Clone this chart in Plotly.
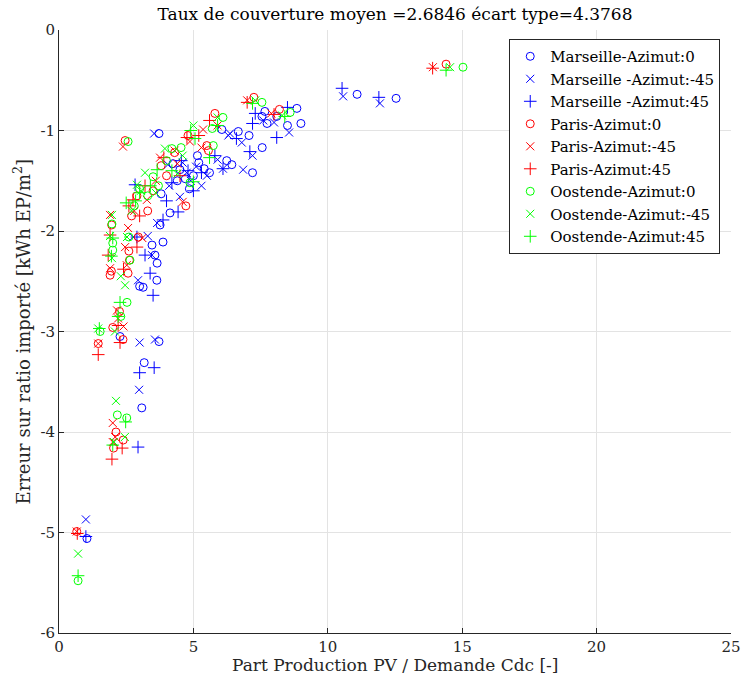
import plotly.graph_objects as go

# ---- data ----
mars0_x = [11.09, 12.54, 8.85, 7.66, 7.55, 7.74, 8.10, 8.50, 9.00, 6.06, 6.67, 7.07, 7.56, 6.24, 6.43, 7.20, 3.72, 4.24, 4.50, 5.20, 5.40, 5.00, 5.60, 4.70, 4.13, 3.76, 3.87, 3.46, 3.57, 3.65, 3.64, 3.00, 3.13, 2.27, 3.72, 3.17, 3.08, 1.04, 3.80, 4.85, 5.15, 4.40]
mars0_y = [-0.64, -0.68, -0.78, -0.81, -0.86, -0.93, -0.86, -0.95, -0.93, -0.99, -1.01, -1.05, -1.17, -1.30, -1.34, -1.42, -1.03, -1.33, -1.39, -1.32, -1.38, -1.45, -1.42, -1.48, -1.82, -1.94, -2.11, -2.14, -2.24, -2.32, -2.49, -2.55, -2.56, -3.05, -3.10, -3.31, -3.76, -5.06, -1.63, -1.58, -1.25, -1.50]

marsm45_x = [10.57, 11.94, 8.00, 8.56, 6.30, 6.80, 6.36, 7.20, 5.90, 6.10, 6.85, 3.54, 4.05, 4.60, 5.10, 5.50, 4.90, 4.50, 3.65, 3.46, 2.76, 2.94, 3.00, 3.57, 2.98, 1.00, 4.10, 5.30, 7.60, 3.30, 4.75]
marsm45_y = [-0.66, -0.73, -0.92, -1.02, -1.05, -1.12, -1.03, -1.25, -1.29, -1.38, -1.39, -1.03, -1.34, -1.32, -1.36, -1.45, -1.50, -1.66, -1.92, -2.24, -2.06, -2.49, -3.11, -3.08, -3.58, -4.87, -1.55, -1.55, -0.90, -2.05, -1.42]

mars45_x = [10.53, 11.90, 8.50, 7.30, 7.20, 8.10, 7.10, 6.10, 5.80, 4.20, 4.80, 5.30, 2.83, 4.43, 3.87, 3.20, 3.39, 3.50, 2.90, 3.00, 3.54, 2.94, 1.00, 4.00, 5.00, 6.60, 4.55]
mars45_y = [-0.58, -0.67, -0.77, -0.83, -0.93, -1.07, -1.21, -1.38, -1.25, -1.52, -1.40, -1.42, -1.54, -1.81, -1.89, -2.24, -2.42, -2.64, -2.06, -3.41, -3.36, -4.15, -5.04, -1.70, -1.60, -1.08, -1.30]

par0_x = [14.40, 7.25, 8.20, 5.80, 5.50, 5.56, 4.30, 2.46, 4.00, 3.50, 2.90, 4.72, 1.96, 2.95, 2.60, 1.90, 2.57, 2.38, 2.25, 2.00, 1.46, 2.12, 2.39, 2.03, 0.66, 3.30, 4.80, 2.70, 1.95, 3.80, 2.62]
par0_y = [-0.34, -0.67, -0.79, -0.83, -1.15, -1.20, -1.22, -1.10, -1.45, -1.60, -1.65, -1.75, -1.94, -2.06, -2.20, -2.44, -2.42, -3.08, -2.80, -2.96, -3.12, -4.00, -4.08, -4.16, -4.99, -1.80, -1.05, -1.85, -2.40, -1.35, -2.29]

parm45_x = [13.91, 7.00, 7.90, 5.36, 4.87, 5.30, 4.30, 4.40, 3.76, 2.38, 3.27, 4.60, 1.90, 2.57, 3.10, 2.46, 1.90, 2.52, 2.16, 2.20, 2.00, 2.09, 2.00, 0.66, 3.60, 2.40, 1.46, 2.80, 5.90]
parm45_y = [-0.37, -0.70, -0.83, -0.99, -1.11, -1.17, -1.20, -1.33, -1.27, -1.16, -1.69, -1.71, -1.84, -1.97, -2.07, -2.16, -2.37, -2.34, -2.79, -2.87, -3.91, -4.05, -4.10, -4.99, -1.50, -2.95, -3.12, -1.80, -0.95]

par45_x = [13.90, 7.00, 8.00, 5.60, 4.76, 3.90, 2.75, 2.90, 1.90, 1.83, 2.20, 2.27, 1.46, 2.35, 1.97, 0.68, 3.20, 4.50, 3.00, 2.60, 2.40, 5.20]
par45_y = [-0.38, -0.72, -0.84, -0.90, -1.07, -1.27, -1.69, -2.16, -2.04, -2.24, -2.94, -3.11, -3.23, -4.16, -4.27, -5.01, -1.55, -1.45, -1.85, -1.75, -2.38, -1.05]

oos0_x = [15.03, 7.55, 8.60, 6.10, 5.70, 5.74, 4.54, 4.20, 2.57, 3.50, 4.87, 3.00, 2.00, 2.00, 2.64, 2.53, 1.53, 2.17, 2.52, 0.71, 2.60, 4.00, 3.30, 2.80, 1.97, 3.70, 2.30]
oos0_y = [-0.37, -0.72, -0.82, -0.87, -0.98, -1.15, -1.17, -1.18, -1.11, -1.46, -1.52, -1.58, -2.12, -2.19, -2.29, -2.71, -3.00, -3.83, -3.86, -5.48, -2.06, -1.30, -1.65, -1.75, -1.93, -1.55, -2.85]

oosm45_x = [14.55, 7.30, 5.00, 5.90, 3.94, 4.40, 3.20, 2.90, 1.97, 2.53, 1.97, 1.90, 2.46, 1.46, 2.08, 2.12, 2.45, 0.71, 4.60, 3.60, 3.05, 2.70, 2.30, 8.30, 2.05]
oosm45_y = [-0.37, -0.70, -0.95, -0.87, -1.18, -1.43, -1.42, -1.54, -1.84, -2.06, -2.27, -2.05, -2.54, -2.97, -3.00, -3.69, -4.05, -5.21, -1.25, -1.62, -1.60, -1.80, -2.45, -0.85, -4.10]

oos45_x = [14.40, 7.20, 8.40, 5.90, 5.06, 5.60, 3.65, 5.00, 3.00, 2.00, 2.27, 2.20, 1.50, 2.48, 2.00, 0.71, 4.20, 2.50, 3.40, 2.85, 1.95, 4.90]
oos45_y = [-0.40, -0.73, -0.86, -0.95, -1.08, -1.27, -1.39, -1.51, -1.62, -2.07, -2.71, -2.85, -2.97, -3.90, -4.13, -5.43, -1.40, -1.72, -1.55, -1.70, -2.25, -1.00]

series_names = ["Marseille-Azimut:0", "Marseille -Azimut:-45", "Marseille -Azimut:45",
                "Paris-Azimut:0", "Paris-Azimut:-45", "Paris-Azimut:45",
                "Oostende-Azimut:0", "Oostende-Azimut:-45", "Oostende-Azimut:45"]

x_ticks = [0, 5, 10, 15, 20, 25]
x_tick_labels = ["0", "5", "10", "15", "20", "25"]
y_ticks = [0, -1, -2, -3, -4, -5, -6]
y_tick_labels = ["0", "-1", "-2", "-3", "-4", "-5", "-6"]

title_text = "Taux de couverture moyen =2.6846 écart type=4.3768"
x_title = "Part Production PV / Demande Cdc [-]"
y_title = "Erreur sur ratio importé [kWh EP/m<sup>2</sup>]"

# ---- figure ----
xs = [mars0_x, marsm45_x, mars45_x, par0_x, parm45_x, par45_x, oos0_x, oosm45_x, oos45_x]
ys = [mars0_y, marsm45_y, mars45_y, par0_y, parm45_y, par45_y, oos0_y, oosm45_y, oos45_y]
colors = ["#0000FF"] * 3 + ["#FF0000"] * 3 + ["#00FF00"] * 3
symbols = ["circle-open", "x-thin-open", "cross-thin-open"] * 3
sizes = [8, 8, 9] * 3

FONT = "DejaVu Serif"
W, H = 743, 676
ML, MR, MT, MB = 59, 12, 30, 43
plot_w = W - ML - MR
plot_h = H - MT - MB

fig = go.Figure()
for name, x, y, c, s, sz in zip(series_names, xs, ys, colors, symbols, sizes):
    fig.add_trace(go.Scatter(
        x=x, y=y, mode="markers", name=name,
        marker=dict(symbol=s, size=sz, color=c, line=dict(color=c, width=1)),
    ))

axis_common = dict(
    showgrid=True, gridcolor="#e3e3e3", gridwidth=1,
    showline=True, linecolor="#262626", linewidth=1,
    ticks="inside", ticklen=5, tickcolor="#262626",
    zeroline=False, mirror=False, automargin=False,
    tickfont=dict(family=FONT, size=15, color="#262626"),
)

fig.update_layout(
    width=W, height=H,
    margin=dict(l=ML, r=MR, t=MT, b=MB),
    paper_bgcolor="white", plot_bgcolor="white",
    font=dict(family=FONT, color="#262626"),
    title=dict(text=title_text, x=0.5, xref="paper", xanchor="center",
               y=1 - 14 / H, yref="container", yanchor="middle",
               font=dict(family=FONT, size=17, color="black")),
    xaxis=dict(range=[0, 25], tickvals=x_ticks, ticktext=x_tick_labels, **axis_common),
    yaxis=dict(range=[-6, 0], tickvals=y_ticks, ticktext=y_tick_labels, **axis_common),
    legend=dict(x=0.984, y=0.985, xanchor="right", yanchor="top",
                bgcolor="white", bordercolor="#262626", borderwidth=1,
                font=dict(family=FONT, size=15, color="black"),
                tracegroupgap=0),
    showlegend=True,
    annotations=[
        dict(text=x_title, xref="paper", yref="paper", x=0.5,
             y=-(665 - (MT + plot_h)) / plot_h, xanchor="center", yanchor="middle",
             showarrow=False, font=dict(family=FONT, size=17, color="#262626")),
        dict(text=y_title, xref="paper", yref="paper", x=-(ML - 22) / plot_w,
             y=0.5, xanchor="center", yanchor="middle", textangle=-90,
             showarrow=False, font=dict(family=FONT, size=18, color="#262626")),
    ],
)

# remove the default 8px page margin so the figure fills the window exactly
fig.write_html("out.html",
               config={"displayModeBar": False},
               post_script="document.body.style.margin='0';document.body.style.overflow='hidden';")
